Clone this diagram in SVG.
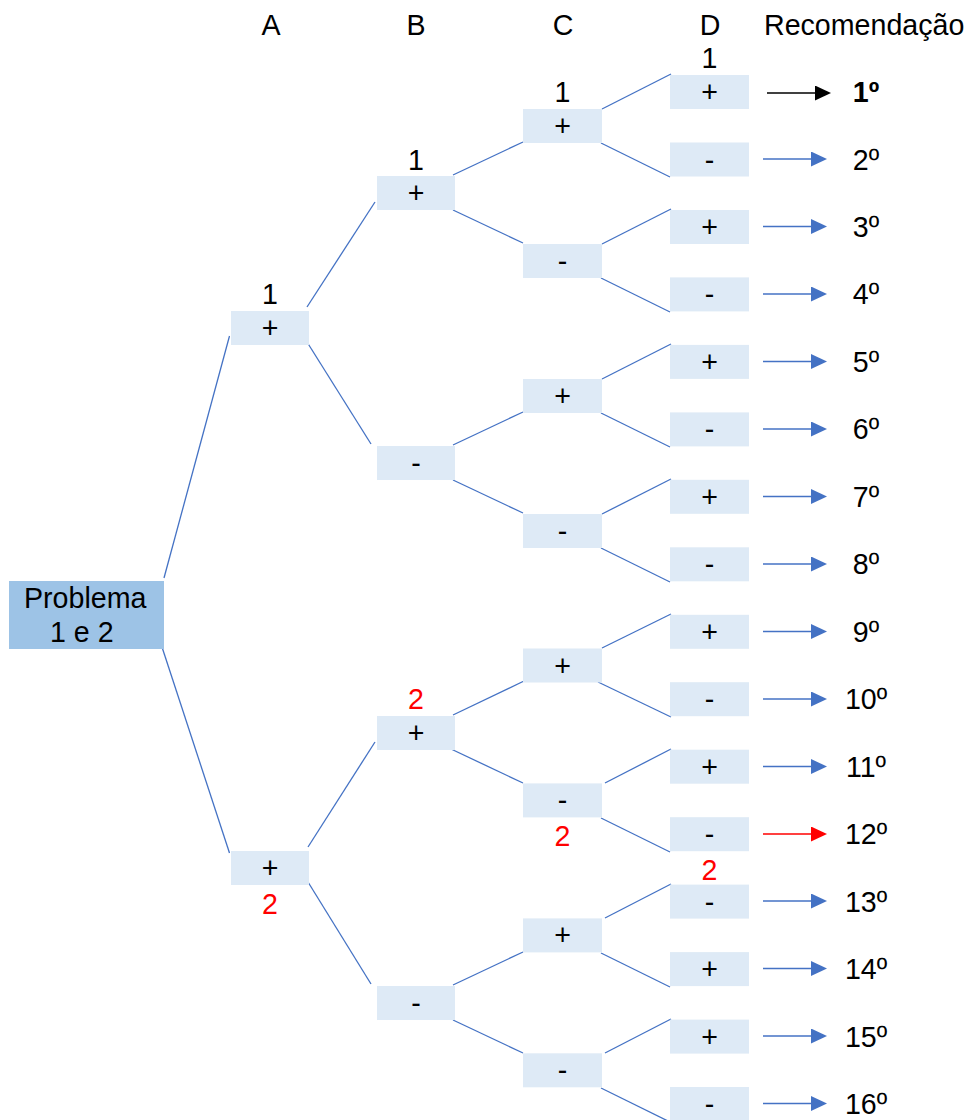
<svg xmlns="http://www.w3.org/2000/svg" width="973" height="1120" viewBox="0 0 973 1120">
<style>
text{font-family:"Liberation Sans",Arial,sans-serif;font-size:28.6px;fill:#000}
.m{text-anchor:middle}
.r{fill:#FF0000}
.b{font-weight:bold}
.bx{fill:#DEEAF6}
.root{fill:#9DC3E6}
.c line{stroke:#4472C4;stroke-width:1.3;fill:none}
.ar line{stroke:#4472C4;stroke-width:1.3}
</style>
<defs>
<marker id="hb" markerUnits="userSpaceOnUse" markerWidth="16" markerHeight="15" refX="0" refY="7.5" orient="auto"><path d="M0,0 L16,7.5 L0,15 Z" fill="#4472C4"/></marker>
<marker id="hr" markerUnits="userSpaceOnUse" markerWidth="16" markerHeight="15" refX="0" refY="7.5" orient="auto"><path d="M0,0 L16,7.5 L0,15 Z" fill="#FF0000"/></marker>
<marker id="hk" markerUnits="userSpaceOnUse" markerWidth="16" markerHeight="15" refX="0" refY="7.5" orient="auto"><path d="M0,0 L16,7.5 L0,15 Z" fill="#000"/></marker>
</defs>
<rect width="973" height="1120" fill="#fff"/>

<g id="headers">
<text class="m" x="271" y="35">A</text>
<text class="m" x="416" y="35">B</text>
<text class="m" x="563" y="35">C</text>
<text class="m" x="710" y="35">D</text>
<text x="764" y="35">Recomendação</text>
</g>

<g class="c" id="connectors">
<line x1="164" y1="578" x2="229.5" y2="336"/>
<line x1="161" y1="644" x2="229.5" y2="853"/>
<line x1="307" y1="307" x2="375" y2="202"/>
<line x1="307" y1="342" x2="371" y2="444"/>
<line x1="308" y1="847" x2="375" y2="742"/>
<line x1="308" y1="882" x2="371" y2="984"/>
<line x1="453" y1="175" x2="523" y2="142"/>
<line x1="453" y1="210" x2="523" y2="243"/>
<line x1="453" y1="445" x2="523" y2="412"/>
<line x1="453" y1="480" x2="523" y2="513"/>
<line x1="453" y1="715" x2="524" y2="681"/>
<line x1="451" y1="749" x2="523" y2="783"/>
<line x1="453" y1="985" x2="523" y2="952"/>
<line x1="453" y1="1020" x2="523" y2="1053"/>
<line x1="602" y1="109" x2="671" y2="74"/>
<line x1="601" y1="143" x2="670" y2="177"/>
<line x1="602" y1="244" x2="671" y2="209"/>
<line x1="601" y1="278" x2="670" y2="312"/>
<line x1="602" y1="379" x2="671" y2="344"/>
<line x1="601" y1="413" x2="670" y2="447"/>
<line x1="602" y1="514" x2="671" y2="479"/>
<line x1="601" y1="548" x2="670" y2="582"/>
<line x1="602" y1="648" x2="671" y2="614"/>
<line x1="598" y1="682" x2="671" y2="717"/>
<line x1="605" y1="783" x2="671" y2="749"/>
<line x1="601" y1="818" x2="670" y2="852"/>
<line x1="605" y1="918" x2="671" y2="884"/>
<line x1="601" y1="953" x2="670" y2="987"/>
<line x1="605" y1="1053" x2="671" y2="1019"/>
<line x1="601" y1="1088" x2="670" y2="1122"/>
</g>

<g id="root"><rect class="root" x="9" y="581" width="155" height="68"/>
<text x="24" y="608">Problema</text><text x="50" y="642">1 e 2</text></g>

<g id="A1"><rect class="bx" x="231" y="311" width="78" height="34"/><text class="m" x="270" y="338">+</text><text class="m" x="270" y="304">1</text></g>
<g id="A2"><rect class="bx" x="231" y="851" width="78" height="34"/><text class="m" x="270" y="878">+</text><text class="m r" x="270" y="914">2</text></g>

<g id="B1"><rect class="bx" x="377" y="176" width="78" height="34"/><text class="m" x="416" y="203">+</text><text class="m" x="416" y="170">1</text></g>
<g id="B2"><rect class="bx" x="377" y="446" width="78" height="34"/><text class="m" x="416" y="473">-</text></g>
<g id="B3"><rect class="bx" x="377" y="716" width="78" height="34"/><text class="m" x="416" y="743">+</text><text class="m r" x="416" y="709">2</text></g>
<g id="B4"><rect class="bx" x="377" y="986" width="78" height="34"/><text class="m" x="416" y="1013">-</text></g>

<g id="C1"><rect class="bx" x="523" y="109" width="79" height="34"/><text class="m" x="562.5" y="136">+</text><text class="m" x="562.5" y="102">1</text></g>
<g id="C2"><rect class="bx" x="523" y="244" width="79" height="34"/><text class="m" x="562.5" y="271">-</text></g>
<g id="C3"><rect class="bx" x="523" y="379" width="79" height="34"/><text class="m" x="562.5" y="406">+</text></g>
<g id="C4"><rect class="bx" x="523" y="514" width="79" height="34"/><text class="m" x="562.5" y="541">-</text></g>
<g id="C5"><rect class="bx" x="523" y="648.5" width="79" height="34"/><text class="m" x="562.5" y="675.5">+</text></g>
<g id="C6"><rect class="bx" x="523" y="783.4" width="79" height="34"/><text class="m" x="562.5" y="810.4">-</text><text class="m r" x="562.5" y="846">2</text></g>
<g id="C7"><rect class="bx" x="523" y="918.4" width="79" height="34"/><text class="m" x="562.5" y="945.4">+</text></g>
<g id="C8"><rect class="bx" x="523" y="1053.3" width="79" height="34"/><text class="m" x="562.5" y="1080.3">-</text></g>

<g id="D1"><rect class="bx" x="670" y="75" width="79" height="34"/><text class="m" x="709.5" y="102">+</text><text class="m" x="709.5" y="68">1</text></g>
<g id="D2"><rect class="bx" x="670" y="142.5" width="79" height="34"/><text class="m" x="709.5" y="169.5">-</text></g>
<g id="D3"><rect class="bx" x="670" y="210" width="79" height="34"/><text class="m" x="709.5" y="237">+</text></g>
<g id="D4"><rect class="bx" x="670" y="277.4" width="79" height="34"/><text class="m" x="709.5" y="304.4">-</text></g>
<g id="D5"><rect class="bx" x="670" y="344.9" width="79" height="34"/><text class="m" x="709.5" y="371.9">+</text></g>
<g id="D6"><rect class="bx" x="670" y="412.4" width="79" height="34"/><text class="m" x="709.5" y="439.4">-</text></g>
<g id="D7"><rect class="bx" x="670" y="479.8" width="79" height="34"/><text class="m" x="709.5" y="506.8">+</text></g>
<g id="D8"><rect class="bx" x="670" y="547.3" width="79" height="34"/><text class="m" x="709.5" y="574.3">-</text></g>
<g id="D9"><rect class="bx" x="670" y="614.8" width="79" height="34"/><text class="m" x="709.5" y="641.8">+</text></g>
<g id="D10"><rect class="bx" x="670" y="682.2" width="79" height="34"/><text class="m" x="709.5" y="709.2">-</text></g>
<g id="D11"><rect class="bx" x="670" y="749.7" width="79" height="34"/><text class="m" x="709.5" y="776.7">+</text></g>
<g id="D12"><rect class="bx" x="670" y="817.2" width="79" height="34"/><text class="m" x="709.5" y="844.2">-</text><text class="m r" x="709.5" y="880">2</text></g>
<g id="D13"><rect class="bx" x="670" y="884.6" width="79" height="34"/><text class="m" x="709.5" y="911.6">-</text></g>
<g id="D14"><rect class="bx" x="670" y="952.1" width="79" height="34"/><text class="m" x="709.5" y="979.1">+</text></g>
<g id="D15"><rect class="bx" x="670" y="1019.6" width="79" height="34"/><text class="m" x="709.5" y="1046.6">+</text></g>
<g id="D16"><rect class="bx" x="670" y="1087" width="79" height="34"/><text class="m" x="709.5" y="1114">-</text></g>

<g id="arrows" class="ar">
<line x1="767" y1="93" x2="815" y2="93" style="stroke:#000" marker-end="url(#hk)"/>
<line x1="763" y1="159" x2="811" y2="159" marker-end="url(#hb)"/>
<line x1="763" y1="226.5" x2="811" y2="226.5" marker-end="url(#hb)"/>
<line x1="763" y1="294" x2="811" y2="294" marker-end="url(#hb)"/>
<line x1="763" y1="361.5" x2="811" y2="361.5" marker-end="url(#hb)"/>
<line x1="763" y1="429" x2="811" y2="429" marker-end="url(#hb)"/>
<line x1="763" y1="496.5" x2="811" y2="496.5" marker-end="url(#hb)"/>
<line x1="763" y1="564" x2="811" y2="564" marker-end="url(#hb)"/>
<line x1="763" y1="631.5" x2="811" y2="631.5" marker-end="url(#hb)"/>
<line x1="763" y1="699" x2="811" y2="699" marker-end="url(#hb)"/>
<line x1="763" y1="766.5" x2="811" y2="766.5" marker-end="url(#hb)"/>
<line x1="763" y1="834" x2="811" y2="834" style="stroke:#FF0000" marker-end="url(#hr)"/>
<line x1="763" y1="901" x2="811" y2="901" marker-end="url(#hb)"/>
<line x1="763" y1="968.5" x2="811" y2="968.5" marker-end="url(#hb)"/>
<line x1="763" y1="1036" x2="811" y2="1036" marker-end="url(#hb)"/>
<line x1="763" y1="1103.5" x2="811" y2="1103.5" marker-end="url(#hb)"/>
</g>

<g id="ranks">
<text class="m b" x="866" y="102">1º</text>
<text class="m" x="866" y="169.5">2º</text>
<text class="m" x="866" y="237">3º</text>
<text class="m" x="866" y="304.4">4º</text>
<text class="m" x="866" y="371.9">5º</text>
<text class="m" x="866" y="439.4">6º</text>
<text class="m" x="866" y="506.8">7º</text>
<text class="m" x="866" y="574.3">8º</text>
<text class="m" x="866" y="641.8">9º</text>
<text class="m" x="866" y="709.2">10º</text>
<text class="m" x="866" y="776.7">11º</text>
<text class="m" x="866" y="844.2">12º</text>
<text class="m" x="866" y="911.6">13º</text>
<text class="m" x="866" y="979.1">14º</text>
<text class="m" x="866" y="1046.6">15º</text>
<text class="m" x="866" y="1114">16º</text>
</g>
</svg>
